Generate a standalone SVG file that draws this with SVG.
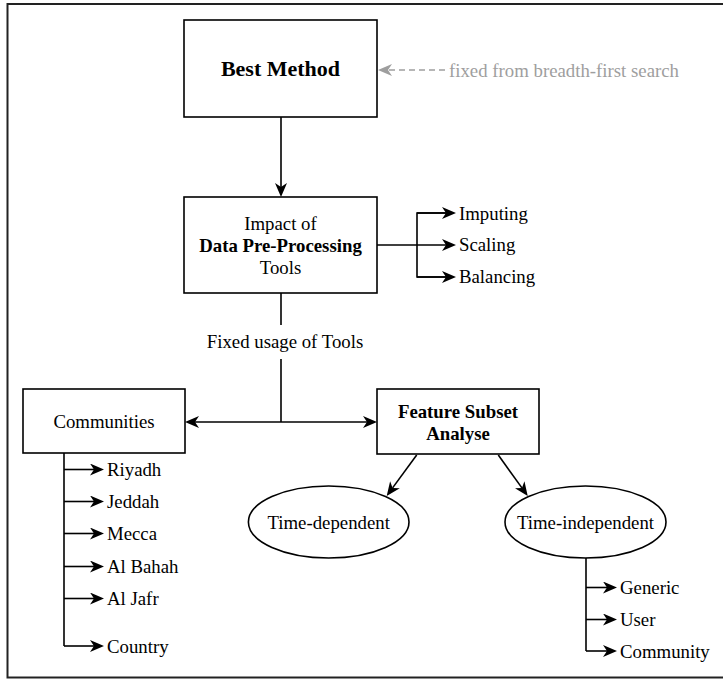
<svg xmlns="http://www.w3.org/2000/svg" width="723" height="679" viewBox="0 0 723 679">
  <style>
    .box { fill: #ffffff; stroke: #000000; stroke-width: 1.6; }
    .edge { fill: none; stroke: #000000; stroke-width: 1.6; }
    .hint { fill: none; stroke: #9e9e9e; stroke-width: 1.6; stroke-dasharray: 6 4; }
    .t { font-family: "Liberation Serif", "Times New Roman", serif; font-size: 18.8px; fill: #000000; }
    .c { text-anchor: middle; }
    .b { font-weight: bold; }
    .big { font-size: 22px; }
    .grey { fill: #9e9e9e; }
  </style>
  <defs>
    <marker id="arrow" viewBox="0 0 14 12" markerWidth="14" markerHeight="12" refX="4" refY="6" orient="auto" markerUnits="userSpaceOnUse">
      <path d="M0,0 L14,6 L0,12 L4,6 Z" fill="#000000"/>
    </marker>
    <marker id="arrowGrey" viewBox="0 0 14 12" markerWidth="14" markerHeight="12" refX="4" refY="6" orient="auto" markerUnits="userSpaceOnUse">
      <path d="M0,0 L14,6 L0,12 L4,6 Z" fill="#9e9e9e"/>
    </marker>
  </defs>

  <!-- outer frame (right side runs past the canvas edge) -->
  <rect x="7.5" y="4" width="730" height="673.5" fill="#ffffff" stroke="#222222" stroke-width="2"/>

  <g id="connectors">
    <!-- Best Method to pre-processing -->
    <line class="edge" x1="281" y1="117" x2="281" y2="187" marker-end="url(#arrow)"/>
    <!-- pre-processing tools -->
    <line class="edge" x1="377" y1="245" x2="446" y2="245" marker-end="url(#arrow)"/>
    <path class="edge" d="M446,213 H417 V277 H446" />
    <line class="edge" x1="417" y1="213" x2="446" y2="213" marker-end="url(#arrow)"/>
    <line class="edge" x1="417" y1="277" x2="446" y2="277" marker-end="url(#arrow)"/>
    <!-- fixed usage of tools -->
    <line class="edge" x1="281" y1="293" x2="281" y2="325"/>
    <line class="edge" x1="281" y1="359" x2="281" y2="422"/>
    <line class="edge" x1="281" y1="422" x2="195" y2="422" marker-end="url(#arrow)"/>
    <line class="edge" x1="281" y1="422" x2="367" y2="422" marker-end="url(#arrow)"/>
    <!-- communities list -->
    <path class="edge" d="M64,453 V646"/>
    <line class="edge" x1="64" y1="469.5" x2="94" y2="469.5" marker-end="url(#arrow)"/>
    <line class="edge" x1="64" y1="501.5" x2="94" y2="501.5" marker-end="url(#arrow)"/>
    <line class="edge" x1="64" y1="533.5" x2="94" y2="533.5" marker-end="url(#arrow)"/>
    <line class="edge" x1="64" y1="566.5" x2="94" y2="566.5" marker-end="url(#arrow)"/>
    <line class="edge" x1="64" y1="598.5" x2="94" y2="598.5" marker-end="url(#arrow)"/>
    <line class="edge" x1="64" y1="646" x2="94" y2="646" marker-end="url(#arrow)"/>
    <!-- feature subsets -->
    <line class="edge" x1="416.7" y1="455" x2="392.6" y2="487.9" marker-end="url(#arrow)"/>
    <line class="edge" x1="498.3" y1="455" x2="521.9" y2="487.9" marker-end="url(#arrow)"/>
    <!-- time-independent groups -->
    <path class="edge" d="M586,558 V651"/>
    <line class="edge" x1="586" y1="587.5" x2="607" y2="587.5" marker-end="url(#arrow)"/>
    <line class="edge" x1="586" y1="619.5" x2="607" y2="619.5" marker-end="url(#arrow)"/>
    <line class="edge" x1="586" y1="651" x2="607" y2="651" marker-end="url(#arrow)"/>
    <!-- source of best method -->
    <line class="hint" x1="445" y1="70" x2="388" y2="70" marker-end="url(#arrowGrey)"/>
  </g>

  <g id="best-method">
    <rect class="box" x="184" y="20" width="193" height="97"/>
    <text class="t c b big" x="280.5" y="76">Best Method</text>
  </g>

  <g id="hint-label">
    <text class="t grey" x="449" y="77">fixed from breadth-first search</text>
  </g>

  <g id="pre-processing">
    <rect class="box" x="184" y="197" width="193" height="96"/>
    <text class="t c" x="280.5" y="230">Impact of</text>
    <text class="t c b" x="280.5" y="252">Data Pre-Processing</text>
    <text class="t c" x="280.5" y="274">Tools</text>
  </g>

  <g id="tools">
    <text class="t" x="459" y="219.5">Imputing</text>
    <text class="t" x="459" y="251">Scaling</text>
    <text class="t" x="459" y="283">Balancing</text>
  </g>

  <g id="fixed-usage">
    <text class="t c" x="285" y="348">Fixed usage of Tools</text>
  </g>

  <g id="communities">
    <rect class="box" x="23" y="389" width="162" height="64"/>
    <text class="t c" x="104" y="428">Communities</text>
  </g>

  <g id="community-list">
    <text class="t" x="107" y="476">Riyadh</text>
    <text class="t" x="107" y="508">Jeddah</text>
    <text class="t" x="107" y="540">Mecca</text>
    <text class="t" x="107" y="573">Al Bahah</text>
    <text class="t" x="107" y="605">Al Jafr</text>
    <text class="t" x="107" y="652.5">Country</text>
  </g>

  <g id="feature-subset">
    <rect class="box" x="377" y="389" width="162" height="65"/>
    <text class="t c b" x="458" y="418">Feature Subset</text>
    <text class="t c b" x="458" y="440">Analyse</text>
  </g>

  <g id="time-dependent">
    <ellipse class="box" cx="328.7" cy="522" rx="80.3" ry="36"/>
    <text class="t c" x="328.7" y="529">Time-dependent</text>
  </g>

  <g id="time-independent">
    <ellipse class="box" cx="585.5" cy="522" rx="80.5" ry="36"/>
    <text class="t c" x="585.5" y="529">Time-independent</text>
  </g>

  <g id="feature-groups">
    <text class="t" x="620" y="594">Generic</text>
    <text class="t" x="620" y="626">User</text>
    <text class="t" x="620" y="657.5">Community</text>
  </g>
</svg>
